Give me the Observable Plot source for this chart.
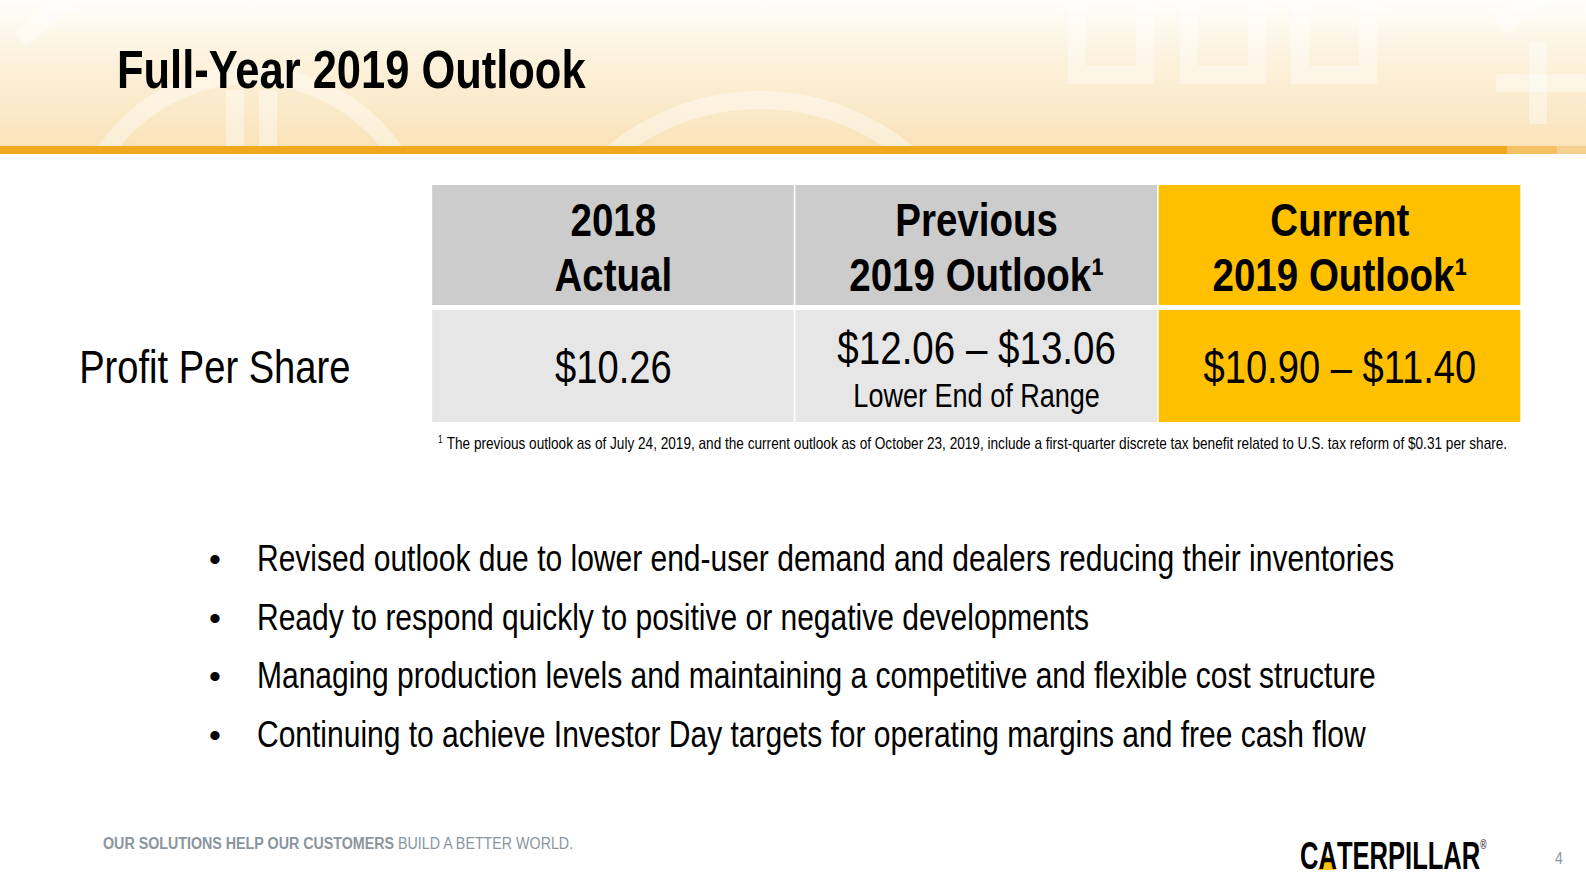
<!DOCTYPE html>
<html>
<head>
<meta charset="utf-8">
<script src="https://cdn.jsdelivr.net/npm/d3@7"></script>
<script src="https://cdn.jsdelivr.net/npm/@observablehq/plot@0.6"></script>
<style>
  html, body { margin: 0; padding: 0; background: #fff; }
  body { width: 1586px; height: 882px; overflow: hidden; position: relative;
         font-family: "Liberation Sans", Arial, sans-serif; }
  #page { position: absolute; left: 0; top: 0; width: 1586px; height: 882px; overflow: hidden; }
  .n { display: inline-block; transform: scaleX(0.82); transform-origin: 0 0; white-space: nowrap; }
  #hdr { position: absolute; left: 0; top: 0; width: 1586px; height: 146px;
         background: linear-gradient(to bottom, #fffefb 0%, #fcf2dd 40%, #f9e3ba 100%); overflow: hidden; }
  #bar { position: absolute; left: 0; top: 146px; width: 1586px; height: 8px;
         background: linear-gradient(to right, #f0a81f 0, #f0a81f 1507px, #f3c064 1507px, #f3c064 1557px, #f6d08f 1557px); }
  #title { position: absolute; left: 117px; top: 39px; font-size: 53px; font-weight: bold; color: #000; }
  #chart { position: absolute; left: 0; top: 0; width: 1586px; height: 882px; }
  #chart svg { max-width: none !important; width: 1934px !important; height: 882px !important;
               transform: scaleX(0.82); transform-origin: 0 0; display: block; }
  #note { position: absolute; left: 438px; top: 434px; font-size: 16.6px; color: #000; }
  #note sup { font-size: 10px; vertical-align: 6px; margin-right: 5px; }
  ul#bullets { position: absolute; left: 0; top: 530px; margin: 0; padding: 0; list-style: none; }
  ul#bullets li { position: relative; height: 58.7px; font-size: 36.6px; line-height: 58.7px; color: #000; width: 1586px; }
  ul#bullets li .dot { position: absolute; left: 209px; top: 0; font-size: 34px; }
  ul#bullets li .n { position: absolute; left: 257px; top: 0; }
  #foot { position: absolute; left: 103px; top: 833px; font-size: 17.4px; color: #8a959d; }
  #foot b { font-weight: bold; }
  #pnum { position: absolute; left: 1555px; top: 849px; font-size: 17px; color: #8a959d; }
  #logo { position: absolute; left: 1300px; top: 823px; font-size: 39px; font-weight: 900; color: #000; line-height: 44px; }
  #logo .w { display: inline-block; transform: scaleX(0.655); transform-origin: 0 0; white-space: nowrap; }
  #logo .a { position: relative; display: inline-block; }
  #logo .tri { position: absolute; left: -1px; bottom: 8px; width: 0; height: 0;
     border-left: 14px solid transparent; border-right: 14px solid transparent; border-bottom: 15px solid #ffc20e; }
  #logo sup { font-size: 13px; vertical-align: 20px; font-weight: normal; }
</style>
</head>
<body>
<div id="page">
  <div id="hdr">
    <svg width="1586" height="146" style="position:absolute;left:0;top:0">
      <g fill="none" stroke="#ffffff" stroke-opacity="0.4" stroke-width="18">
        <circle cx="250" cy="250" r="175"/>
        <circle cx="760" cy="330" r="230"/>
        <line x1="20" y1="40" x2="80" y2="-10"/>
        <line x1="235" y1="90" x2="235" y2="146"/>
        <line x1="268" y1="90" x2="268" y2="146"/>
        <rect x="1077" y="-10" width="68" height="85"/>
        <rect x="1189" y="-10" width="68" height="85"/>
        <rect x="1300" y="-10" width="68" height="85"/>
        <line x1="1538" y1="42" x2="1538" y2="124"/>
        <line x1="1496" y1="83" x2="1586" y2="83"/>
        <line x1="1500" y1="28" x2="1545" y2="-10"/>
      </g>
    </svg>
  </div>
  <div id="bar"></div>
  <div id="title"><span class="n">Full-Year 2019 Outlook</span></div>
  <div id="chart"></div>
  <div id="note"><span class="n"><sup>1</sup>The previous outlook as of July 24, 2019, and the current outlook as of October 23, 2019, include a first-quarter discrete tax benefit related to U.S. tax reform of $0.31 per share.</span></div>
  <ul id="bullets"></ul>
  <div id="foot"><span class="n"><b>OUR SOLUTIONS HELP OUR CUSTOMERS</b> BUILD A BETTER WORLD.</span></div>
  <div id="logo"><span class="w">C<span class="a"><span class="tri"></span><span style="position:relative">A</span></span>TERPILLAR<sup>®</sup></span></div>
  <div id="pnum"><span class="n">4</span></div>
</div>
<script>
// ---- data ----
const columns = ["2018 Actual", "Previous 2019 Outlook", "Current 2019 Outlook"];
const headerLabels = ["2018\nActual", "Previous\n2019 Outlook¹", "Current\n2019 Outlook¹"];
const rows = ["header", "Profit Per Share"];
const values = ["$10.26", "$12.06 – $13.06", "$10.90 – $11.40"];
const valueNotes = ["", "Lower End of Range", ""];
const bullets = [
  "Revised outlook due to lower end-user demand and dealers reducing their inventories",
  "Ready to respond quickly to positive or negative developments",
  "Managing production levels and maintaining a competitive and flexible cost structure",
  "Continuing to achieve Investor Day targets for operating margins and free cash flow"
];

// ---- table as Plot (drawn wide, then narrowed by CSS scaleX so text looks like Arial Narrow) ----
const S = 0.82;
const W = Math.round(1586 / S);
const cells = rows.flatMap(r => columns.map(c => ({row: r, col: c})));
const valueRows = columns.map((c, i) => ({col: c, value: values[i], note: valueNotes[i]}));
const hasNote = d => d.note !== "";
const cellFill = d => d.col === columns[2] ? "#ffc000" : d.row === rows[0] ? "#cccccc" : "#e6e6e6";

const chart = Plot.plot({
  width: W,
  height: 882,
  marginLeft: 432 / S,
  marginRight: W - 1520 / S,
  marginTop: 185,
  marginBottom: 459,
  style: {fontFamily: "'Liberation Sans', Arial, sans-serif", background: "transparent", color: "#000"},
  x: {type: "band", domain: columns, paddingInner: 0.0055, paddingOuter: 0, axis: null},
  y: {type: "band", domain: rows, paddingInner: 0.041, paddingOuter: 0, axis: null},
  color: {type: "identity"},
  marks: [
    Plot.cell(cells.filter(d => d.row === rows[0]), {
      x: "col", y: "row", inset: 0, insetBottom: -4, fill: cellFill
    }),
    Plot.cell(cells.filter(d => d.row === rows[1]), {
      x: "col", y: "row", inset: 0, insetTop: 4, fill: cellFill
    }),
    Plot.axisY({
      tickSize: 0, tickPadding: 82 / S, fontSize: 46.5, fill: "#000", label: null, dy: 4,
      tickFormat: d => d === rows[0] ? "" : d
    }),
    Plot.text(columns, {
      x: d => d, y: () => rows[0], text: (d, i) => headerLabels[i],
      fontSize: 47, fontWeight: "bold", lineHeight: 1.18, dy: 2.5, fill: "#000"
    }),
    Plot.text(valueRows.filter(d => !hasNote(d)), {
      x: "col", y: () => rows[1], text: "value", fontSize: 46.5, fill: "#000", dy: 4
    }),
    Plot.text(valueRows.filter(hasNote), {
      x: "col", y: () => rows[1], text: "value", fontSize: 47, fill: "#000", dy: -16
    }),
    Plot.text(valueRows.filter(hasNote), {
      x: "col", y: () => rows[1], text: "note", fontSize: 33, fill: "#000", dy: 32
    })
  ]
});
document.getElementById("chart").appendChild(chart);

const ul = document.getElementById("bullets");
bullets.forEach(b => {
  const li = document.createElement("li");
  const dot = document.createElement("span");
  dot.className = "dot"; dot.textContent = "•";
  const t = document.createElement("span");
  t.className = "n"; t.textContent = b;
  li.appendChild(dot); li.appendChild(t);
  ul.appendChild(li);
});
</script>
</body>
</html>
